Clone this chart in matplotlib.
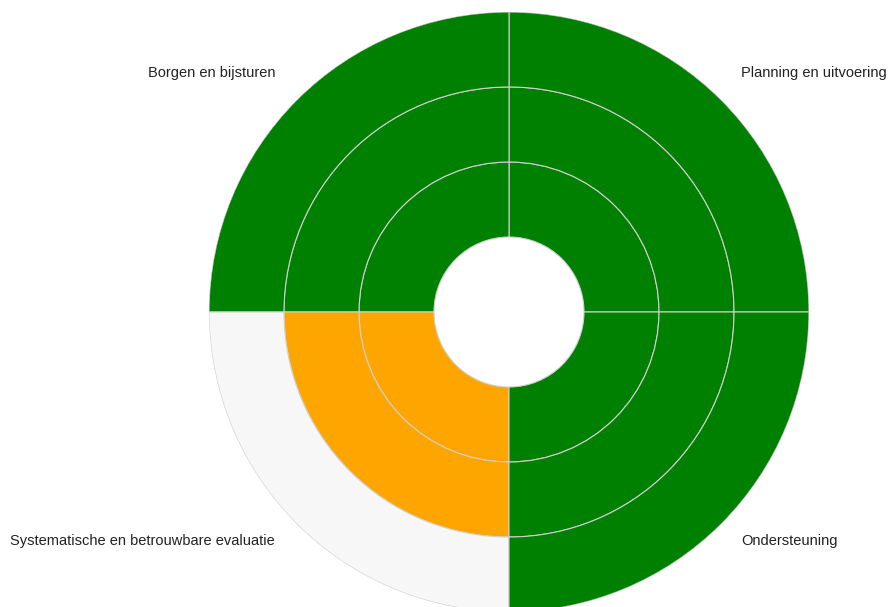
import matplotlib
matplotlib.use("Agg")
import matplotlib.pyplot as plt
import numpy as np

plt.rcParams['font.family'] = ['Liberation Sans', 'DejaVu Sans']

# Data
categories = ["Planning en uitvoering", "Borgen en bijsturen",
              "Systematische en betrouwbare evaluatie", "Ondersteuning"]
# status of rings per category, inner -> outer
ring1 = ["goed", "goed", "matig", "goed"]
ring2 = ["goed", "goed", "matig", "goed"]
ring3 = ["goed", "goed", "leeg", "goed"]
status_colors = {"goed": "#008000", "matig": "#FFA500", "leeg": "#F7F7F7"}

W, H = 892, 607
fig = plt.figure(figsize=(W / 100, H / 100), dpi=100)
cx, cy, R = 509, 312, 300
ax = fig.add_axes([(cx - R) / W, (H - cy - R) / H, 2 * R / W, 2 * R / H], projection='polar')

theta = np.deg2rad([45, 135, 225, 315])
width = np.pi / 2
for i, ring in enumerate([ring1, ring2, ring3]):
    ax.bar(theta, [1] * len(ring), width=width, bottom=i + 1,
           color=[status_colors[s] for s in ring],
           edgecolor="#cfcfcf", linewidth=0.8, align='center')

ax.set_ylim(0, 4)
ax.set_axis_off()

# labels
label_pos = {
    "Planning en uitvoering": (741, 73, 'left'),
    "Borgen en bijsturen": (275, 73, 'right'),
    "Systematische en betrouwbare evaluatie": (275, 541, 'right'),
    "Ondersteuning": (741, 541, 'left'),
}
for c in categories:
    x, y, ha = label_pos[c]
    fig.text(x / W, 1 - y / H, c, ha=ha, va='center', fontsize=10.5, color='#222222')

fig.savefig("out.png", dpi=100)
